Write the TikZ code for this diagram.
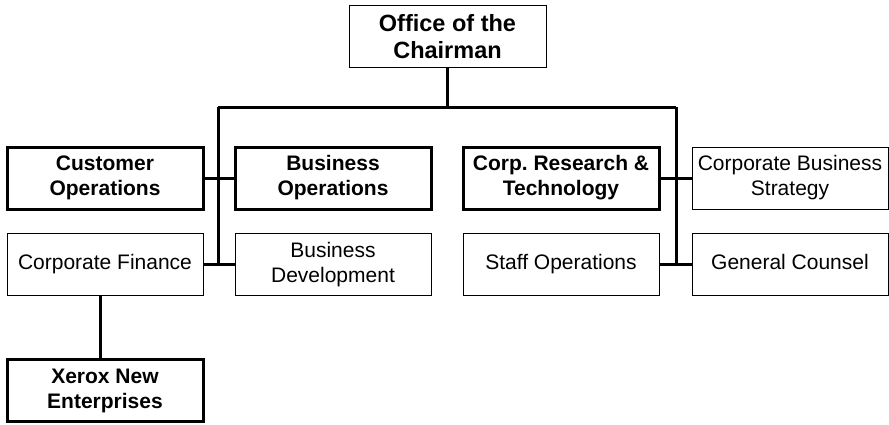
\documentclass[tikz,border=0pt]{standalone}
\usepackage{fontspec}
\setmainfont{Liberation Sans}
\usepackage{tikz}
\usetikzlibrary{positioning,
				calc}
\frenchspacing

\begin{document}
\begin{tikzpicture}[x=1pt,y=-1pt,
		unit/.style={draw, line width=1pt, minimum width=196pt, minimum height=62pt, inner sep=0pt, align=center, font=\fontsize{21}{25}\selectfont},
		oneline/.style={text height=15pt, text depth=4.5pt},
		mainunit/.style={unit, line width=3pt, font=\fontsize{21}{25}\selectfont\bfseries},
		link/.style={line width=3pt}]
		\useasboundingbox (0,0) rectangle (889,424);
		\node[unit, minimum width=197pt, font=\fontsize{23.5}{27}\selectfont\bfseries] (chair) at (447.5,36.5) {Office of the\\Chairman};
		\node[mainunit] (custops) at (105,178) {Customer\\Operations};
		\node[mainunit] (busops) at (333,178) {Business\\Operations};
		\node[mainunit] (research) at (561,178) {Corp. Research \&\\Technology};
		\node[unit] (strategy) at (790,178) {Corporate Business\\Strategy};
		\node[unit, oneline] (finance) at (105,264.5) {Corporate Finance};
		\node[unit] (busdev) at (333,264.5) {Business\\Development};
		\node[unit, oneline] (staffops) at (561,264.5) {Staff Operations};
		\node[unit, oneline] (counsel) at (790,264.5) {General Counsel};
		\node[mainunit] (xerox) at (105,390.5) {Xerox New\\Enterprises};
		\coordinate (busL) at (218,107);
		\coordinate (busR) at (676,107);
		\draw[link] (chair.south) -- (chair.south |- busL);
		\draw[link] (busL) -- (busR);
		\draw[link] (busL) -- (busL |- finance.east);
		\draw[link] (busR) -- (busR |- staffops.east);
		\draw[link] (custops.east) -- (busops.west);
		\draw[link] (finance.east) -- (busdev.west);
		\draw[link] (research.east) -- (strategy.west);
		\draw[link] (staffops.east) -- (counsel.west);
		\draw[link] ([xshift=-5pt]finance.south) -- ([xshift=-5pt]xerox.north);
	\end{tikzpicture}
\end{document}
